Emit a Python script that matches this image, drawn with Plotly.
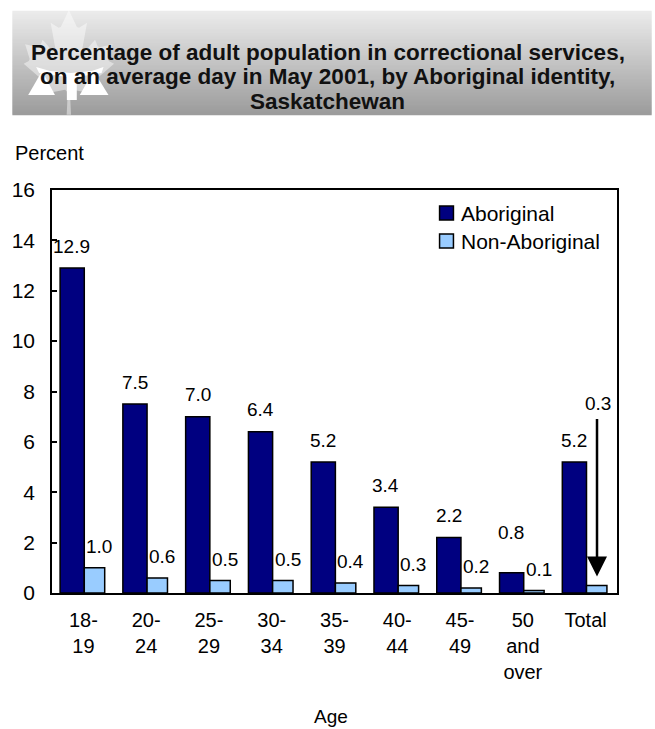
import plotly.graph_objects as go

# ---------------- data ----------------
categories = ["18-19", "20-24", "25-29", "30-34", "35-39", "40-44", "45-49", "50 and over", "Total"]
tick_labels = ["18-<br>19", "20-<br>24", "25-<br>29", "30-<br>34", "35-<br>39",
               "40-<br>44", "45-<br>49", "50<br>and<br>over", "Total"]
aboriginal = [12.9, 7.5, 7.0, 6.4, 5.2, 3.4, 2.2, 0.8, 5.2]
non_aboriginal = [1.0, 0.6, 0.5, 0.5, 0.4, 0.3, 0.2, 0.1, 0.3]
y_ticks = [0, 2, 4, 6, 8, 10, 12, 14, 16]
series_names = ["Aboriginal", "Non-Aboriginal"]

title_lines = ["Percentage of adult population in correctional services,",
               "on an average day in May 2001, by Aboriginal identity,",
               "Saskatchewan"]

# ---------------- layout geometry (pixels) ----------------
W, H = 655, 729
L, R, T, B = 47, 617, 190, 593
PW, PH = R - L, B - T
CAT_PX = PW / len(categories)
FONT = "Liberation Sans, Arial, sans-serif"
DARK = "#000080"
LIGHT = "#99CCFF"
series_colors = [DARK, LIGHT]
LABEL_SIZE = 19


def px2x(px):
    return (px - L) / PW


def py2y(py):
    return (B - py) / PH


fig = go.Figure()

fig.add_trace(go.Bar(
    x=categories, y=aboriginal, name=series_names[0],
    marker=dict(color=DARK, line=dict(color="black", width=1.5)),
    offset=-23.5 / CAT_PX, width=24.4 / CAT_PX,
    showlegend=False, hoverinfo="skip"))
fig.add_trace(go.Bar(
    x=categories, y=non_aboriginal, name=series_names[1],
    marker=dict(color=LIGHT, line=dict(color="black", width=1.5)),
    offset=0.9 / CAT_PX, width=20.6 / CAT_PX,
    showlegend=False, hoverinfo="skip"))

annotations = []
shapes = []

# value labels
for i, (c, a, n) in enumerate(zip(categories, aboriginal, non_aboriginal)):
    lift = 40 if c == "50 and over" else 22
    annotations.append(dict(
        x=c, y=a, xref="x", yref="y", text=f"{a:.1f}", showarrow=False,
        xshift=-11.4, yshift=lift, xanchor="center", yanchor="middle",
        font=dict(size=LABEL_SIZE, color="black", family=FONT)))
    if c == "Total":
        annotations.append(dict(
            x=c, y=n, xref="x", yref="y", text=f"{n:.1f}", showarrow=False,
            xshift=12, yshift=182, xanchor="center", yanchor="middle",
            font=dict(size=LABEL_SIZE, color="black", family=FONT)))
        annotations.append(dict(
            x=c, y=n, xref="x", yref="y", text="", showarrow=True,
            xshift=11.4, ax=0, ay=-168, axref="pixel", ayref="pixel",
            arrowhead=2, arrowsize=1.6, arrowwidth=2.5, arrowcolor="black",
            standoff=9))
    else:
        annotations.append(dict(
            x=c, y=n, xref="x", yref="y", text=f"{n:.1f}", showarrow=False,
            xshift=16, yshift=21, xanchor="center", yanchor="middle",
            font=dict(size=LABEL_SIZE, color="black", family=FONT)))

# manual legend (square swatches + text)
for nm, col, py in zip(series_names, series_colors, [213, 241]):
    shapes.append(dict(type="rect", xref="paper", yref="paper",
                       x0=px2x(438), x1=px2x(452), y0=py2y(py + 7), y1=py2y(py - 7),
                       fillcolor=col, line=dict(color="black", width=1.5), layer="above"))
    annotations.append(dict(
        x=px2x(458), y=py2y(py), xref="paper", yref="paper", text=nm,
        showarrow=False, xanchor="left", yanchor="middle",
        font=dict(size=21, color="black", family=FONT)))

# header title
for txt, py in zip(title_lines, [52, 77, 101]):
    annotations.append(dict(
        x=px2x(325), y=py2y(py), xref="paper", yref="paper", text=f"<b>{txt}</b>",
        showarrow=False, xanchor="center", yanchor="middle",
        font=dict(size=22.5, color="#111111", family=FONT)))

# axis captions
annotations.append(dict(
    x=px2x(8), y=py2y(153), xref="paper", yref="paper", text="Percent",
    showarrow=False, xanchor="left", yanchor="middle",
    font=dict(size=20, color="black", family=FONT)))
annotations.append(dict(
    x=px2x(328), y=py2y(716), xref="paper", yref="paper", text="Age",
    showarrow=False, xanchor="center", yanchor="middle",
    font=dict(size=19, color="black", family=FONT)))

# ---------------- header box (gradient + watermark) ----------------
top_px, bot_px = 11, 115
n_strips = 52
c_top, c_bot = (236, 236, 236), (155, 155, 155)
header_shapes = []
for k in range(n_strips):
    y0 = top_px + (bot_px - top_px) * k / n_strips
    y1 = top_px + (bot_px - top_px) * (k + 1) / n_strips
    t = (k + 0.5) / n_strips
    col = tuple(round(c_top[j] + (c_bot[j] - c_top[j]) * t) for j in range(3))
    header_shapes.append(dict(
        type="rect", xref="paper", yref="paper",
        x0=px2x(7), x1=px2x(652), y0=py2y(y1) - 0.0005, y1=py2y(y0) + 0.0005,
        line=dict(width=0), fillcolor=f"rgb{col}", layer="above"))

# maple leaf outline (flag-style), local units
half = [(-90, 2030), (-45, 1167), (-156, 1069), (-1015, 1220), (-899, 900), (-919, 827),
        (-1860, 65), (-1648, -34), (-1614, -113), (-1800, -685), (-1258, -570),
        (-1185, -608), (-1080, -855), (-657, -401), (-546, -458), (-750, -1510),
        (-423, -1321), (-332, -1348), (0, -2000)]
leaf = half + [(-x, y) for (x, y) in reversed(half[:-1])]
cx, sx, sy, ty = 64, 0.0245, 0.026, 10


def leaf_pt(p):
    return px2x(cx + p[0] * sx), py2y(ty + (p[1] + 2000) * sy)


path = "M " + " L ".join(f"{leaf_pt(p)[0]:.5f},{leaf_pt(p)[1]:.5f}" for p in leaf) + " Z"
header_shapes.append(dict(type="path", xref="paper", yref="paper", path=path,
                          fillcolor="rgba(255,255,255,0.45)", line=dict(width=0), layer="above"))


def poly(pts, color):
    p = "M " + " L ".join(f"{px2x(x):.5f},{py2y(y):.5f}" for x, y in pts) + " Z"
    return dict(type="path", xref="paper", yref="paper", path=p,
                fillcolor=color, line=dict(width=0), layer="above")


header_shapes.append(poly([(31, 67), (45, 71), (66, 73), (87, 71), (99, 67), (97, 73),
                           (72, 77), (72, 100), (62, 100), (62, 77), (34, 73)], "white"))
header_shapes.append(poly([(23, 95), (37, 71), (50, 95)], "white"))
header_shapes.append(poly([(75, 95), (89, 71), (104, 95)], "white"))

fig.update_layout(
    width=W, height=H,
    margin=dict(l=L, r=W - R, t=T, b=H - B, pad=0),
    paper_bgcolor="white", plot_bgcolor="white",
    barmode="overlay",
    font=dict(family=FONT, color="black", size=20),
    showlegend=False,
    annotations=annotations,
    shapes=header_shapes + shapes,
    xaxis=dict(type="category", range=[-0.5, len(categories) - 0.5],
               tickvals=categories, ticktext=tick_labels, ticks="",
               showline=True, linecolor="black", linewidth=1.5, mirror=True,
               showgrid=False, zeroline=False, fixedrange=True,
               tickfont=dict(size=20, color="black", family=FONT),
               ticklabelstandoff=8),
    yaxis=dict(range=[0, 16], tickvals=y_ticks, ticks="inside", ticklen=5,
               tickwidth=1.5, tickcolor="black",
               showline=True, linecolor="black", linewidth=1.5, mirror=True,
               showgrid=False, zeroline=False, fixedrange=True,
               tickfont=dict(size=21, color="black", family=FONT),
               ticklabelstandoff=11),
)

fig.write_html("out.html", config={"displayModeBar": False},
               post_script="document.body.style.margin='0';document.body.style.overflow='hidden';")
